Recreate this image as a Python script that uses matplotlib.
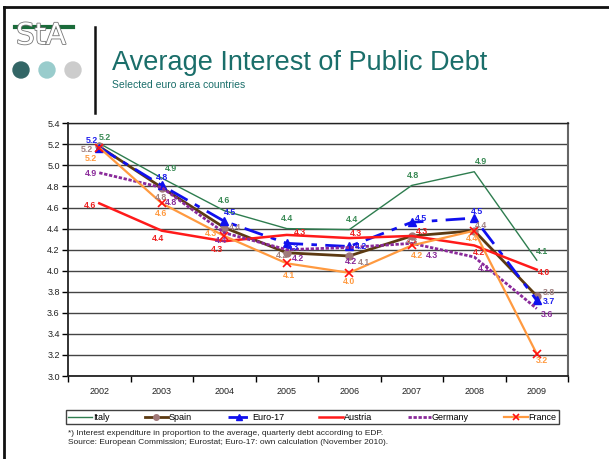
import matplotlib
matplotlib.use("Agg")
import matplotlib.pyplot as plt
from matplotlib.lines import Line2D
from matplotlib.patches import Ellipse
from matplotlib import font_manager
import matplotlib.patheffects as pe

plt.rcParams['font.family'] = ['Liberation Sans', 'DejaVu Sans']

years = ["2002", "2003", "2004", "2005", "2006", "2007", "2008", "2009"]
italy   = [5.21, 4.88, 4.57, 4.40, 4.39, 4.81, 4.94, 4.10]
spain   = [5.18, 4.79, 4.41, 4.17, 4.14, 4.33, 4.38, 3.76]
euro17  = [5.17, 4.81, 4.47, 4.26, 4.23, 4.46, 4.50, 3.72]
austria = [4.64, 4.38, 4.28, 4.34, 4.31, 4.33, 4.24, 4.01]
germany = [4.93, 4.79, 4.36, 4.20, 4.22, 4.26, 4.13, 3.64]
france  = [5.17, 4.64, 4.33, 4.07, 3.98, 4.24, 4.38, 3.21]
yticks = [3.0, 3.2, 3.4, 3.6, 3.8, 4.0, 4.2, 4.4, 4.6, 4.8, 5.0, 5.2, 5.4]

W, H = 609, 459
fig = plt.figure(figsize=(W / 100, H / 100), dpi=100)

def fx(px):
    return px / W

def fy(py):
    return 1 - py / H

ax = fig.add_axes([fx(68), fy(376), fx(568) - fx(68), fy(123.3) - fy(376)])

x = list(range(len(years)))

series = [
    ("Italy", italy, dict(color="#2e7d4f", lw=1.0), "#3a8a55",
     [(6, 6), (9, 10), (0, 10), (0, 10), (3, 10), (1, 10), (7, 10), (5, 9)]),
    ("Spain", spain, dict(color="#5c3a12", lw=2.0, marker="o", ms=5,
                          mfc="#a07878", mec="#a07878"), "#a08080",
     [(-12, -3), (-1, -10), (11, 0), (-5, -3), (15, -7), (0, -6), (7, 5), (12, 3)]),
    ("Euro-17", euro17, dict(color="#1010ee", lw=2.0, dashes=(7, 3, 2, 3),
                             marker="^", ms=6, mfc="#1010ee", mec="#1010ee"), "#2020ee",
     [(-7, 7), (0, 8), (6, 9), (6, -4), (12, 0), (9, 4), (3, 7), (12, -1)]),
    ("Austria", austria, dict(color="#ff1a1a", lw=1.8), "#ee2020",
     [(-9, -2), (-4, -8), (-7, -8), (13, 2), (7, 5), (10, 4), (5, -7), (7, -3)]),
    ("Germany", germany, dict(color="#8a2a9a", lw=2.0, dashes=(1.2, 0.6)), "#8a2a9a",
     [(-8, -1), (9, -15), (-3, -8), (11, -9), (2, -14), (20, -12), (10, -11), (10, -6)]),
    ("France", france, dict(color="#ff9a40", lw=1.6, marker="x", ms=6,
                            mec="#ff1010", mew=1.2), "#ff9a40",
     [(-8, -11), (-1, -10), (-13, 2), (2, -12), (0, -9), (5, -10), (-2, -8), (5, -7)]),
]

handles = []
for name, vals, style, lcol, offs in series:
    ln, = ax.plot(x, vals, label=name, zorder=3, **style)
    handles.append(ln)
    for xi, v, (dx, dy) in zip(x, vals, offs):
        ax.annotate(f"{v:.1f}", (xi, v), xytext=(dx, dy), textcoords="offset pixels",
                    ha="center", va="center", fontsize=6.3, fontweight="bold",
                    color=lcol, zorder=4)

ax.set_xlim(-0.5, len(years) - 0.5)
ax.set_ylim(3.0, 5.4)
ax.set_yticks(yticks)
ax.set_yticklabels([f"{t:.1f}" for t in yticks])
ax.yaxis.grid(True, color="#444444", lw=1.0)
ax.set_axisbelow(True)

ax.set_xticks([i - 0.5 for i in range(len(years) + 1)])
ax.set_xticklabels([])
ax.set_xticks(x, minor=True)
ax.set_xticklabels(years, minor=True)
ax.tick_params(axis="x", which="minor", length=0, pad=8, labelsize=6.5, colors="#222222")
ax.tick_params(axis="x", which="major", length=4, direction="out", width=1)
ax.tick_params(axis="y", length=4, direction="out", width=1, labelsize=6.5, pad=2,
               labelcolor="#222222")
for s in ax.spines.values():
    s.set_color("#222222")
    s.set_linewidth(1.0)
ax.spines["left"].set_linewidth(1.3)
ax.spines["bottom"].set_linewidth(1.3)
ax.spines["right"].set_color("#666666")
ax.spines["right"].set_linewidth(1.5)

leg = fig.legend(handles=handles, loc="lower left", ncol=6, mode="expand",
                 bbox_to_anchor=(fx(66), fy(424), fx(559) - fx(66), fy(409) - fy(424)),
                 borderaxespad=0, frameon=True, fancybox=False, fontsize=6.5,
                 handlelength=2.6, handletextpad=0.1, borderpad=0.25,
                 columnspacing=1.0, markerscale=0.8)
leg.get_frame().set_edgecolor("#111111")
leg.get_frame().set_linewidth(1.0)

# page border
fig.add_artist(Line2D([fx(4), 1], [fy(7), fy(7)], color="#111111", lw=2))
fig.add_artist(Line2D([fx(4), fx(4)], [fy(7), 0], color="#111111", lw=2))
# vertical separator
fig.add_artist(Line2D([fx(95), fx(95)], [fy(27), fy(113)], color="#111111", lw=1.8))

# logo
names = {f.name for f in font_manager.fontManager.ttflist}
logo_family = "Liberation Sans Narrow" if "Liberation Sans Narrow" in names else "DejaVu Sans"
fig.add_artist(Line2D([fx(15), fx(73)], [fy(27), fy(27)], color="#1a6b3a", lw=3))
fig.text(fx(41), fy(44), "StA", ha="center", va="baseline", fontsize=21,
         color="white", family=logo_family,
         path_effects=[pe.withStroke(linewidth=1.2, foreground="#777777")])
for cxp, col in [(21, "#336666"), (47, "#99cccc"), (73, "#cccccc")]:
    fig.add_artist(Ellipse((fx(cxp), fy(70)), 16 / W, 16 / H, color=col))

# titles
fig.text(fx(112), fy(70), "Average Interest of Public Debt", fontsize=19.5,
         color="#1a6e6a", ha="left", va="baseline")
fig.text(fx(112), fy(88), "Selected euro area countries", fontsize=7.5,
         color="#1a6e6a", ha="left", va="baseline")

fig.text(fx(68), fy(435), "*) Interest expenditure in proportion to the average, quarterly debt according to EDP.",
         fontsize=6.0, color="#222222", ha="left", va="baseline")
fig.text(fx(68), fy(444), "Source: European Commission; Eurostat; Euro-17: own calculation (November 2010).",
         fontsize=6.0, color="#222222", ha="left", va="baseline")

fig.savefig("out.png", dpi=100)
